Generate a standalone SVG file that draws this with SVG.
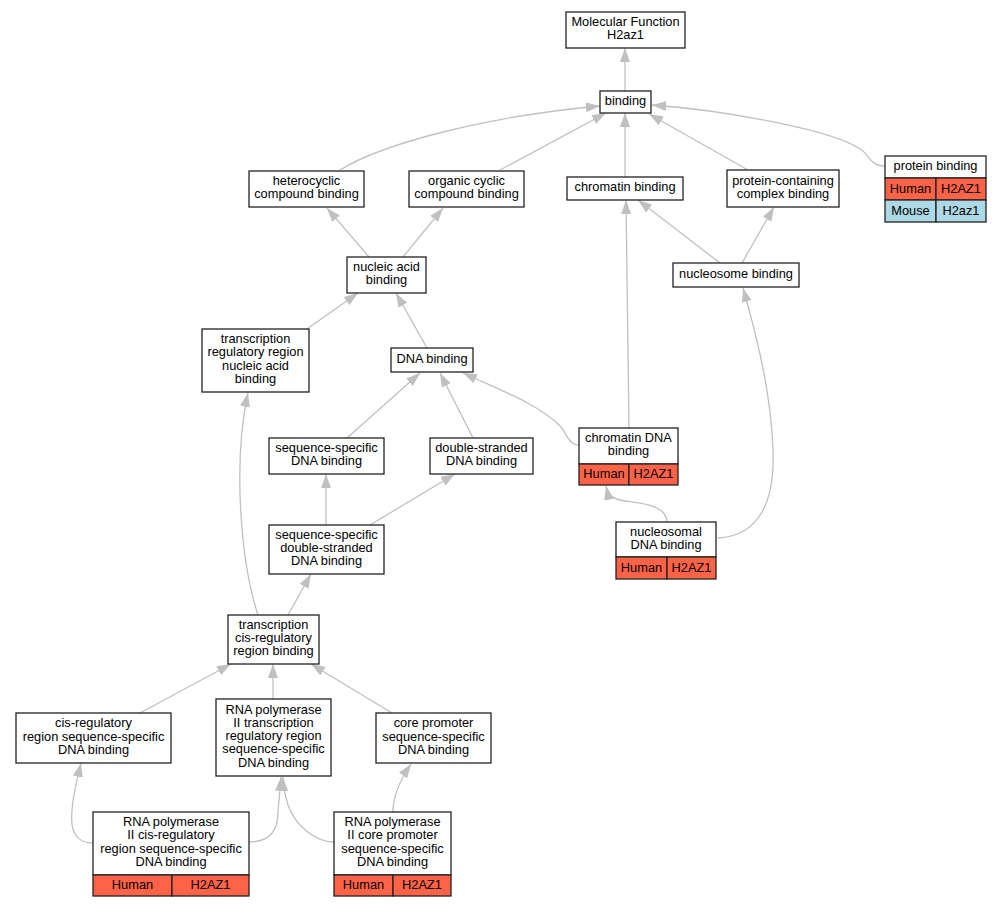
<svg xmlns="http://www.w3.org/2000/svg" width="1000" height="907" viewBox="0 0 1000 907">
<style>
  .box{fill:#fff;stroke:#222;stroke-width:1.3}
  .hum{fill:#ff6347;stroke:#222;stroke-width:1.3}
  .mou{fill:#add8e6;stroke:#222;stroke-width:1.3}
  text{font-family:"Liberation Sans",Arial,sans-serif;font-size:12.8px;fill:#000;text-anchor:middle}
  .e{fill:none;stroke:#c0c0c0;stroke-width:1.3;marker-end:url(#arr)}
</style>
<defs>
  <marker id="arr" markerUnits="userSpaceOnUse" markerWidth="14" markerHeight="10" refX="14" refY="5" orient="auto">
    <path d="M0,0 L14,5 L0,10 z" fill="#c0c0c0"/>
  </marker>
</defs>
<rect width="1000" height="907" fill="#fff"/>
<g id="connectors">
  <path class="e" d="M625,91 L625,48"/>
  <path class="e" d="M340,170 C380,145 480,117 600,106"/>
  <path class="e" d="M500,170 L606,113"/>
  <path class="e" d="M625,177 L625,113"/>
  <path class="e" d="M748,170 L649,114"/>
  <path class="e" d="M885,166 C872,166 870,158 864,152 C840,130 720,110 652,105"/>
  <path class="e" d="M369,257 L327,208"/>
  <path class="e" d="M403,257 L443,208"/>
  <path class="e" d="M307,329 L358,293"/>
  <path class="e" d="M427,348 L396,293"/>
  <path class="e" d="M629,428 L626,200"/>
  <path class="e" d="M720,263 L638,200"/>
  <path class="e" d="M742,263 L774,207"/>
  <path class="e" d="M718,538 C760,536 775,500 773,450 C771,390 755,330 743,288"/>
  <path class="e" d="M667,522 C667,505 640,503 625,501 C612,499 608,495 606,486"/>
  <path class="e" d="M579,445 C568,445 567,433 560,426 C540,405 500,390 463,373"/>
  <path class="e" d="M347,438 L420,373"/>
  <path class="e" d="M473,438 L440,373"/>
  <path class="e" d="M326,525 L326,474"/>
  <path class="e" d="M370,525 L455,474"/>
  <path class="e" d="M258,615 C240,560 233,460 248,393"/>
  <path class="e" d="M288,615 L311,574"/>
  <path class="e" d="M140,713 L231,664"/>
  <path class="e" d="M273,699 L273,664"/>
  <path class="e" d="M392,713 L311,664"/>
  <path class="e" d="M93,843 C75,843 70,830 72,810 C73,795 77,780 81,763"/>
  <path class="e" d="M249,842 C270,842 278,830 278,812 C279,800 280,790 281,777"/>
  <path class="e" d="M334,842 C315,842 295,825 288,805 C285,795 283,787 283,777"/>
  <path class="e" d="M393,812 C393,795 400,780 411,764"/>
</g>
<g id="mf">
  <rect class="box" x="566" y="12" width="119" height="36"/>
  <text x="625.5" y="26">Molecular Function</text>
  <text x="625.5" y="39.3">H2az1</text>
</g>
<g id="binding">
  <rect class="box" x="600" y="91" width="51" height="22"/>
  <text x="625.5" y="104.6">binding</text>
</g>
<g id="heterocyclic">
  <rect class="box" x="249" y="171" width="115" height="36"/>
  <text x="306.5" y="185">heterocyclic</text>
  <text x="306.5" y="198.3">compound binding</text>
</g>
<g id="organic">
  <rect class="box" x="409" y="171" width="115" height="36"/>
  <text x="466.5" y="185">organic cyclic</text>
  <text x="466.5" y="198.3">compound binding</text>
</g>
<g id="chromatin">
  <rect class="box" x="567" y="177" width="116" height="23"/>
  <text x="625" y="191.1">chromatin binding</text>
</g>
<g id="protcomplex">
  <rect class="box" x="727" y="170" width="112" height="37"/>
  <text x="783" y="184.5">protein-containing</text>
  <text x="783" y="197.8">complex binding</text>
</g>
<g id="protein">
  <rect class="box" x="885" y="156" width="101" height="22"/>
  <text x="935.5" y="169.6">protein binding</text>
  <rect class="hum" x="885" y="178" width="51" height="22"/>
  <rect class="hum" x="936" y="178" width="50" height="22"/>
  <rect class="mou" x="885" y="200" width="51" height="22"/>
  <rect class="mou" x="936" y="200" width="50" height="22"/>
  <text x="910.5" y="192.6">Human</text>
  <text x="961" y="192.6">H2AZ1</text>
  <text x="910.5" y="214.6">Mouse</text>
  <text x="961" y="214.6">H2az1</text>
</g>
<g id="nucleosome">
  <rect class="box" x="673" y="263" width="126" height="24"/>
  <text x="736" y="277.6">nucleosome binding</text>
</g>
<g id="nucleic">
  <rect class="box" x="347" y="257" width="79" height="36"/>
  <text x="386.5" y="271">nucleic acid</text>
  <text x="386.5" y="284.3">binding</text>
</g>
<g id="trnucleic">
  <rect class="box" x="202" y="329" width="107" height="63"/>
  <text x="255.5" y="343.1">transcription</text>
  <text x="255.5" y="356.4">regulatory region</text>
  <text x="255.5" y="369.7">nucleic acid</text>
  <text x="255.5" y="383">binding</text>
</g>
<g id="dna">
  <rect class="box" x="391" y="348" width="82" height="24"/>
  <text x="432" y="362.6">DNA binding</text>
</g>
<g id="seqdna">
  <rect class="box" x="269" y="438" width="115" height="36"/>
  <text x="326.5" y="452">sequence-specific</text>
  <text x="326.5" y="465.3">DNA binding</text>
</g>
<g id="dsdna">
  <rect class="box" x="430" y="438" width="103" height="36"/>
  <text x="481.5" y="452">double-stranded</text>
  <text x="481.5" y="465.3">DNA binding</text>
</g>
<g id="seqdsdna">
  <rect class="box" x="269" y="525" width="115" height="49"/>
  <text x="326.5" y="538.8">sequence-specific</text>
  <text x="326.5" y="552.1">double-stranded</text>
  <text x="326.5" y="565.4">DNA binding</text>
</g>
<g id="chromdna">
  <rect class="box" x="579" y="428" width="99" height="36"/>
  <text x="628.5" y="442">chromatin DNA</text>
  <text x="628.5" y="455.3">binding</text>
  <rect class="hum" x="579" y="464" width="50" height="21"/>
  <rect class="hum" x="629" y="464" width="49" height="21"/>
  <text x="604" y="478.1">Human</text>
  <text x="653.5" y="478.1">H2AZ1</text>
</g>
<g id="nucleosomal">
  <rect class="box" x="616" y="522" width="100" height="35"/>
  <text x="666" y="535.5">nucleosomal</text>
  <text x="666" y="548.8">DNA binding</text>
  <rect class="hum" x="616" y="557" width="51" height="22"/>
  <rect class="hum" x="667" y="557" width="49" height="22"/>
  <text x="641.5" y="571.6">Human</text>
  <text x="691.5" y="571.6">H2AZ1</text>
</g>
<g id="trcis">
  <rect class="box" x="228" y="615" width="91" height="49"/>
  <text x="273.5" y="628.8">transcription</text>
  <text x="273.5" y="642.1">cis-regulatory</text>
  <text x="273.5" y="655.4">region binding</text>
</g>
<g id="cisreg">
  <rect class="box" x="16" y="713" width="155" height="50"/>
  <text x="93.5" y="727.3">cis-regulatory</text>
  <text x="93.5" y="740.6">region sequence-specific</text>
  <text x="93.5" y="753.9">DNA binding</text>
</g>
<g id="rnatr">
  <rect class="box" x="216" y="699" width="115" height="77"/>
  <text x="273.5" y="713.5">RNA polymerase</text>
  <text x="273.5" y="726.8">II transcription</text>
  <text x="273.5" y="740.1">regulatory region</text>
  <text x="273.5" y="753.4">sequence-specific</text>
  <text x="273.5" y="766.7">DNA binding</text>
</g>
<g id="corepro">
  <rect class="box" x="376" y="713" width="115" height="50"/>
  <text x="433.5" y="727.3">core promoter</text>
  <text x="433.5" y="740.6">sequence-specific</text>
  <text x="433.5" y="753.9">DNA binding</text>
</g>
<g id="rnacis">
  <rect class="box" x="93" y="812" width="156" height="63"/>
  <text x="171" y="826.1">RNA polymerase</text>
  <text x="171" y="839.4">II cis-regulatory</text>
  <text x="171" y="852.7">region sequence-specific</text>
  <text x="171" y="866">DNA binding</text>
  <rect class="hum" x="93" y="875" width="79" height="21"/>
  <rect class="hum" x="172" y="875" width="77" height="21"/>
  <text x="132.5" y="889.1">Human</text>
  <text x="210.5" y="889.1">H2AZ1</text>
</g>
<g id="rnacore">
  <rect class="box" x="334" y="812" width="117" height="63"/>
  <text x="392.5" y="826.1">RNA polymerase</text>
  <text x="392.5" y="839.4">II core promoter</text>
  <text x="392.5" y="852.7">sequence-specific</text>
  <text x="392.5" y="866">DNA binding</text>
  <rect class="hum" x="334" y="875" width="59" height="21"/>
  <rect class="hum" x="393" y="875" width="58" height="21"/>
  <text x="363.5" y="889.1">Human</text>
  <text x="422" y="889.1">H2AZ1</text>
</g>
</svg>
